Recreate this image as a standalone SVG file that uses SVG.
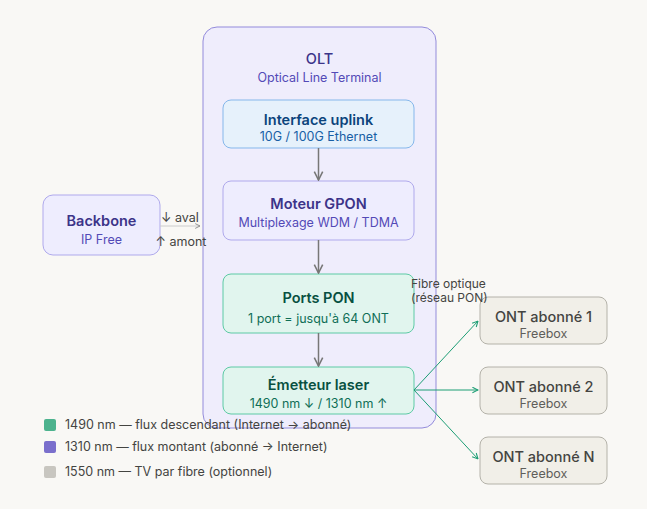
<svg xmlns="http://www.w3.org/2000/svg" width="647" height="509" viewBox="0 0 647 509">
<defs>
<marker id="ag" viewBox="0 0 10 10" refX="9" refY="5" markerWidth="7" markerHeight="7" orient="auto-start-reverse"><path d="M1 1L9 5L1 9" fill="none" stroke="#777" stroke-width="1.5"/></marker>
<marker id="ae" viewBox="0 0 10 10" refX="9" refY="5" markerWidth="7" markerHeight="7" orient="auto-start-reverse"><path d="M1 1L9 5L1 9" fill="none" stroke="#1d9e75" stroke-width="1.5"/></marker>
<marker id="al" viewBox="0 0 10 10" refX="9" refY="5" markerWidth="6" markerHeight="6" orient="auto-start-reverse"><path d="M1 1L9 5L1 9" fill="none" stroke="#888" stroke-width="1.5"/></marker>
<style>
text{font-family:Inter,"Noto Sans","Liberation Sans",sans-serif;text-anchor:middle}
.t{font-size:14.5px;font-weight:600}
.s{font-size:12.5px}
.p rect{fill:#eeedfe;stroke:#afa9ec}
.p .t{fill:#3c3489}.p .s{fill:#534ab7}
.b rect{fill:#e6f1fb;stroke:#85b7eb}
.b .t{fill:#0c447c}.b .s{fill:#185fa5}
.g rect{fill:#e1f5ee;stroke:#5dcaa5}
.g .t{fill:#085041}.g .s{fill:#0f6e56}
.n rect{fill:#f1efe8;stroke:#b4b2a9}
.n .t{fill:#444441}.n .s{fill:#5f5e5a}
.lbl{font-size:12.5px;fill:#444441}
.lg{font-size:12.5px;fill:#444441;text-anchor:start}
</style>
</defs>
<rect width="647" height="509" fill="#f9f8f5"/>
<g id="olt">
<rect x="203" y="27" width="233" height="401" rx="14" fill="#efedfc" stroke="#938bdb" stroke-width="1"/>
<text x="319.5" y="64" class="t" fill="#3c3489" style="font-weight:500">OLT</text>
<text x="319.5" y="82" class="s" fill="#534ab7">Optical Line Terminal</text>
</g>
<g id="uplink" class="b">
<rect x="223" y="100" width="191" height="48" rx="8"/>
<text x="318.5" y="125" class="t">Interface uplink</text>
<text x="318.5" y="141" class="s">10G / 100G Ethernet</text>
</g>
<g id="gpon" class="p">
<rect x="223" y="181" width="191" height="59" rx="8"/>
<text x="318.5" y="209" class="t">Moteur GPON</text>
<text x="318.5" y="227" class="s">Multiplexage WDM / TDMA</text>
</g>
<g id="ports" class="g">
<rect x="223" y="274" width="191" height="59" rx="8"/>
<text x="318.5" y="303" class="t">Ports PON</text>
<text x="318.5" y="323" class="s">1 port = jusqu'à 64 ONT</text>
</g>
<g id="laser" class="g">
<rect x="223" y="367" width="191" height="47" rx="8"/>
<text x="318.5" y="390" class="t">Émetteur laser</text>
<text x="318.5" y="408" class="s">1490 nm ↓ / 1310 nm ↑</text>
</g>
<g id="backbone" class="p">
<rect x="43" y="195" width="117" height="60" rx="10"/>
<text x="101.5" y="226" class="t">Backbone</text>
<text x="101.5" y="244" class="s">IP Free</text>
</g>
<g id="ont1" class="n">
<rect x="480" y="297" width="127" height="47" rx="8"/>
<text x="543.5" y="322" class="t" style="font-weight:500">ONT abonné 1</text>
<text x="543.5" y="338" class="s">Freebox</text>
</g>
<g id="ont2" class="n">
<rect x="480" y="367" width="127" height="47" rx="8"/>
<text x="543.5" y="392" class="t" style="font-weight:500">ONT abonné 2</text>
<text x="543.5" y="408" class="s">Freebox</text>
</g>
<g id="ontn" class="n">
<rect x="480" y="437" width="127" height="47" rx="8"/>
<text x="543.5" y="462" class="t" style="font-weight:500">ONT abonné N</text>
<text x="543.5" y="478" class="s">Freebox</text>
</g>
<g id="connectors" fill="none">
<line x1="160" y1="226" x2="200" y2="226" stroke="#ccc" stroke-width="1" marker-end="url(#al)"/>
<line x1="318.5" y1="148" x2="318.5" y2="180" stroke="#777" stroke-width="1.5" marker-end="url(#ag)"/>
<line x1="318.5" y1="240" x2="318.5" y2="273" stroke="#777" stroke-width="1.5" marker-end="url(#ag)"/>
<line x1="318.5" y1="333" x2="318.5" y2="366" stroke="#777" stroke-width="1.5" marker-end="url(#ag)"/>
<line x1="414" y1="390" x2="478" y2="321" stroke="#1d9e75" stroke-width="1" marker-end="url(#ae)"/>
<line x1="414" y1="390" x2="478" y2="390" stroke="#1d9e75" stroke-width="1" marker-end="url(#ae)"/>
<line x1="414" y1="390" x2="478" y2="459" stroke="#1d9e75" stroke-width="1" marker-end="url(#ae)"/>
<text x="180" y="222" class="lbl">↓ aval</text>
<text x="181" y="246" class="lbl">↑ amont</text>
<text x="411" y="288" class="lbl" style="text-anchor:start;font-size:12px">Fibre optique</text>
<text x="411" y="302" class="lbl" style="text-anchor:start;font-size:12px">(réseau PON)</text>
</g>
<g id="legend">
<rect x="44" y="419" width="12" height="12" rx="2" fill="#4db38e"/>
<text x="65" y="429" class="lg">1490 nm — flux descendant (Internet → abonné)</text>
<rect x="44" y="441" width="12" height="12" rx="2" fill="#7a6fcc"/>
<text x="65" y="451" class="lg">1310 nm — flux montant (abonné → Internet)</text>
<rect x="44" y="466" width="12" height="12" rx="2" fill="#c8c6c0"/>
<text x="65" y="476" class="lg">1550 nm — TV par fibre (optionnel)</text>
</g>
</svg>
